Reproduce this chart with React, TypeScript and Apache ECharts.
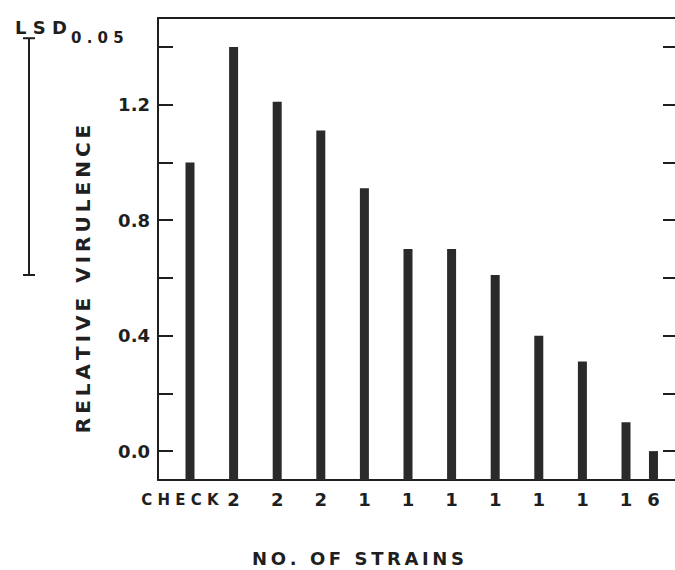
import React, { useEffect, useRef } from 'react';
import * as echarts from 'echarts';

// ---- data ----
const categories = ['CHECK', '2', '2', '2', '1', '1', '1', '1', '1', '1', '1', '6'];
const virulence = [1.0, 1.4, 1.21, 1.11, 0.91, 0.7, 0.7, 0.61, 0.4, 0.31, 0.1, 0.0];
// horizontal placement of the bars along the strain axis (the last bar sits closer)
const barSlots = [0, 1, 2, 3, 4, 5, 6, 7, 8, 9, 10, 10.63];
const yTickValues = [0.0, 0.2, 0.4, 0.6, 0.8, 1.0, 1.2, 1.4];
const yLabelValues = [0.0, 0.4, 0.8, 1.2];
const lsdValue = 0.82;
const lsdTop = 1.43;
const axisFloor = -0.1; // value at the bottom axis line, bars rise from it
const axisCeil = 1.5;
const xMin = -0.734;
const xMax = 11.124;
// the "CHECK" word is set a little left of its bar in the original
const checkLabelNudge = -0.23;

const FONT = '"DejaVu Sans", "Liberation Sans", Arial, sans-serif';
const INK = '#1f1f1f';

const shift = (v: number) => +(v - axisFloor).toFixed(4);
const spaced = (s: string) =>
  s
    .split(' ')
    .map((w) => w.split('').join('\u2009'))
    .join('\u2009 \u2009');

const labelSlots = barSlots.map((p, i) => (i === 0 ? +(p + checkLabelNudge).toFixed(4) : p));

export default function App() {
  const ref = useRef<HTMLDivElement>(null);

  useEffect(() => {
    if (!ref.current) return;
    const chart = echarts.init(ref.current, null, { renderer: 'svg' });

    const labelFor = (v: number) => {
      const i = labelSlots.findIndex((p) => Math.abs(p - v) < 1e-6);
      if (i < 0) return '';
      return i === 0 ? '{chk|C H E C K}' : '{num|' + categories[i] + '}';
    };

    const option: any = {
      animation: false,
      backgroundColor: '#ffffff',
      grid: { left: 158, top: 18, right: 0, height: 462 },
      xAxis: [
        {
          type: 'value',
          position: 'bottom',
          min: xMin,
          max: xMax,
          axisLine: { show: true, onZero: false, lineStyle: { color: INK, width: 2 } },
          axisTick: { show: false },
          splitLine: { show: false },
          axisLabel: {
            show: true,
            customValues: labelSlots,
            formatter: labelFor,
            margin: 9,
            hideOverlap: false,
            showMinLabel: true,
            showMaxLabel: true,
            rich: {
              chk: {
                fontFamily: FONT,
                fontWeight: 'bold',
                fontSize: 15,
                color: INK,
                lineHeight: 20,
                padding: [1, 0, 0, 0],
              },
              num: {
                fontFamily: FONT,
                fontWeight: 'bold',
                fontSize: 18,
                color: INK,
                lineHeight: 20,
              },
            },
          },
        },
        {
          type: 'value',
          position: 'top',
          min: xMin,
          max: xMax,
          axisLine: { show: true, onZero: false, lineStyle: { color: INK, width: 2 } },
          axisTick: { show: false },
          axisLabel: { show: false },
          splitLine: { show: false },
        },
      ],
      yAxis: [
        {
          type: 'value',
          position: 'left',
          min: 0,
          max: shift(axisCeil),
          axisLine: { show: true, onZero: false, lineStyle: { color: INK, width: 2 } },
          axisTick: {
            show: true,
            inside: true,
            length: 15,
            customValues: yTickValues.map(shift),
            lineStyle: { color: INK, width: 2 },
          },
          axisLabel: {
            show: true,
            customValues: yLabelValues.map(shift),
            formatter: (v: number) => (v + axisFloor).toFixed(1),
            margin: 8,
            fontFamily: FONT,
            fontWeight: 'bold',
            fontSize: 18,
            color: INK,
          },
          splitLine: { show: false },
        },
        {
          type: 'value',
          position: 'right',
          min: 0,
          max: shift(axisCeil),
          axisLine: { show: false, onZero: false },
          axisTick: {
            show: true,
            inside: true,
            length: 12,
            customValues: yTickValues.map(shift),
            lineStyle: { color: INK, width: 2 },
          },
          axisLabel: { show: false },
          splitLine: { show: false },
        },
      ],
      series: [
        {
          type: 'bar',
          xAxisIndex: 0,
          yAxisIndex: 0,
          barWidth: 9,
          itemStyle: { color: '#2a2a2a' },
          data: barSlots.map((p, i) => [p, shift(virulence[i])]),
        },
        {
          type: 'custom',
          xAxisIndex: 0,
          yAxisIndex: 0,
          clip: false,
          silent: true,
          data: [[0, shift(lsdTop), shift(lsdTop - lsdValue)]],
          renderItem: (params: any, api: any) => {
            const yTop = api.coord([0, api.value(1)])[1];
            const yBot = api.coord([0, api.value(2)])[1];
            const x = 29;
            const half = 6;
            const style = { stroke: INK, lineWidth: 2 };
            return {
              type: 'group',
              children: [
                { type: 'line', shape: { x1: x, y1: yTop, x2: x, y2: yBot }, style },
                { type: 'line', shape: { x1: x - half, y1: yTop, x2: x + half, y2: yTop }, style },
                { type: 'line', shape: { x1: x - half, y1: yBot, x2: x + half, y2: yBot }, style },
              ],
            };
          },
        },
      ],
      graphic: [
        {
          type: 'text',
          left: 15,
          top: 18,
          style: { text: 'L S D', font: 'bold 18px ' + FONT, fill: INK },
        },
        {
          type: 'text',
          left: 71,
          top: 30,
          style: { text: '0 . 0 5', font: 'bold 15px ' + FONT, fill: INK },
        },
        {
          type: 'text',
          x: 83,
          y: 279,
          rotation: Math.PI / 2,
          style: {
            text: spaced('RELATIVE VIRULENCE'),
            font: 'bold 20px ' + FONT,
            fill: INK,
            align: 'center',
            verticalAlign: 'middle',
          },
        },
        {
          type: 'text',
          x: 358,
          y: 558,
          style: {
            text: spaced('NO. OF STRAINS'),
            font: 'bold 18px ' + FONT,
            fill: INK,
            align: 'center',
            verticalAlign: 'middle',
          },
        },
      ],
    };

    chart.setOption(option);
    return () => chart.dispose();
  }, []);

  return (
    <div
      ref={ref}
      style={{ position: 'fixed', left: 0, top: 0, width: 675, height: 570, background: '#fff' }}
    />
  );
}
